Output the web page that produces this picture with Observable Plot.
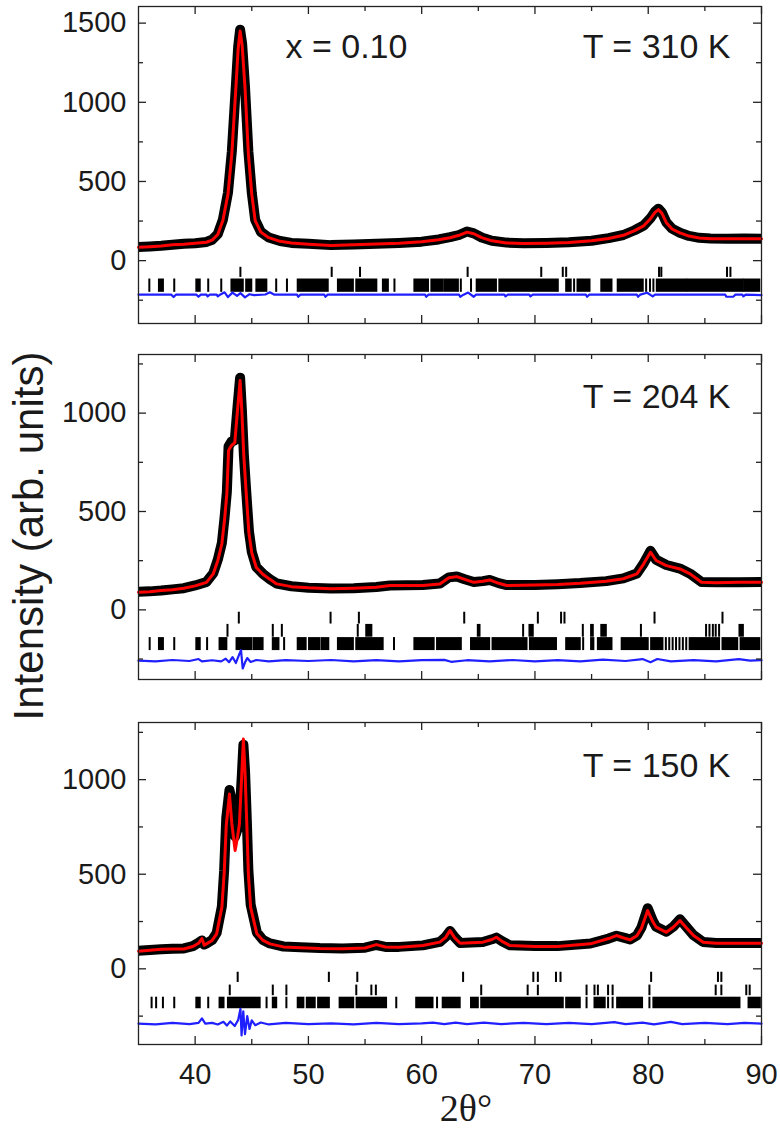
<!DOCTYPE html>
<html>
<head>
<meta charset="utf-8">
<script src="https://cdn.jsdelivr.net/npm/d3@7"></script>
<script src="https://cdn.jsdelivr.net/npm/@observablehq/plot@0.6"></script>
<style>
  body { margin: 0; background: #fff; }
  #wrap { position: relative; width: 780px; height: 1128px; overflow: hidden; background: #fff; }
  #wrap > svg { position: absolute; left: 0; }
</style>
</head>
<body>
<div id="wrap"></div>
<script>
// ---------------- tick labels / texts ----------------
const xMajorTicks = [40, 50, 60, 70, 80, 90];
const xMinorTicks = [45, 55, 65, 75, 85];
const yMajorTicks1 = [0, 500, 1000, 1500];
const yMajorTicks23 = [0, 500, 1000];
const yMinorTicks = [-250, 250, 750, 1250];
const compositionLabel = "x = 0.10";
const temperatureLabels = ["T = 310 K", "T = 204 K", "T = 150 K"];
const yTitle = "Intensity (arb. units)";
const xTitle = "2θ°";

// ---------------- panel 1: T = 310 K ----------------
const twoTheta1 = [35,36,37,38,39,40,41,41.5,42,42.45,42.9,43.24,43.6,43.8,43.97,44.15,44.4,44.7,45,45.3,45.8,46.5,47.5,48.5,50,52,54,56,58,60,61.5,62.5,63.3,64.0,64.6,65.3,66.2,67.5,69,71,73,75,76.5,77.8,78.8,79.6,80.2,80.6,80.9,81.2,81.6,82.1,82.8,83.6,84.5,85.5,87,88.5,90];
const obs1  = [86,90,94,100,106,110,118,132,168,258,430,690,1110,1350,1458,1370,1100,690,430,258,182,146,124,112,106,98,102,106,112,120,134,148,162,184,172,146,126,114,110,112,116,126,142,162,192,222,268,310,328,305,242,202,176,156,144,140,138,140,138];
const calc1 = [84,88,92,100,104,110,116,130,165,253,420,676,1095,1340,1450,1360,1095,676,420,253,180,145,122,112,104,95,100,105,110,120,132,145,160,180,170,145,125,112,108,110,115,125,140,160,190,220,265,305,322,300,240,200,175,155,143,138,138,138,138];
const diff1 = [[35,-215],[37.9,-215],[38.1,-230],[38.3,-215],[40.1,-215],[40.3,-228],[40.5,-215],[41.0,-215],[41.1,-226],[41.3,-215],[41.9,-215],[42.0,-226],[42.2,-215],[42.6,-200],[42.9,-230],[43.3,-202],[43.7,-222],[44.0,-205],[44.4,-232],[44.8,-212],[45.2,-218],[46.2,-214],[46.6,-200],[47.0,-215],[49.0,-215],[49.1,-228],[49.3,-215],[51.4,-215],[51.5,-228],[51.7,-215],[60.3,-215],[60.4,-228],[60.6,-215],[63.3,-215],[63.4,-228],[63.7,-215],[64.1,-202],[64.6,-228],[64.8,-215],[67.3,-215],[67.4,-226],[67.6,-215],[69.5,-215],[69.6,-226],[69.8,-215],[74.5,-215],[74.6,-228],[74.8,-215],[79.0,-215],[79.1,-228],[79.3,-215],[79.9,-203],[80.4,-226],[80.6,-215],[86.8,-215],[86.9,-228],[87.5,-228],[87.7,-215],[88.3,-215],[88.4,-226],[88.6,-215],[90,-218]];
const braggUpper1 = [44.04, 52.1, 54.6, 64.1, 70.6, 72.5, 72.8, 81.0, 81.2, 87.0, 87.3];
const braggLower1 = [36.0,[36.85,37.2],38.2,[40.15,40.45],41.2,42.35,[43.25,44.25],[44.55,45.0],[45.45,46.33],47.2,48.15,[49.1,51.75],[52.65,53.97],[54.27,56.04],[56.62,57.06],57.64,[59.4,60.6],[60.9,61.9],[62.06,63.24],63.5,64.4,[64.9,66.6],[66.9,72.06],[72.8,73.2],73.5,[73.8,74.86],[75.9,76.8],[77.35,79.56],79.86,80.2,80.5,[80.8,83.4],[83.53,88.4],[88.53,89.85]];

// ---------------- panel 2: T = 204 K ----------------
const twoTheta2 = [35,36,37,38,39,40,41,41.6,42,42.36,42.6,42.8,42.95,43.2,43.5,43.74,43.97,44.12,44.3,44.5,44.75,45,45.4,46,46.6,47.2,48.5,50,52,54,56,57.2,60.1,61.6,62.4,63.1,63.8,64.6,65.4,66,66.8,67.5,70,72,74,76.3,77.8,79,79.6,80.2,80.7,81.6,82.8,83.7,84.7,86,88,90];
const obs2  = [92,94,98,104,110,124,142,186,255,340,470,600,830,855,862,1030,1180,1025,790,610,400,295,218,182,156,134,120,112,108,110,116,124,126,134,165,170,156,142,146,152,136,126,126,130,136,146,160,185,236,300,255,228,210,184,142,140,140,142];
const calc2 = [90,92,98,102,110,122,140,183,250,336,460,590,810,835,850,1014,1166,1014,780,600,390,290,215,180,155,132,118,112,107,110,115,124,124,132,163,169,155,140,145,152,135,124,126,129,135,145,158,183,234,293,251,225,208,183,140,138,140,140];
const diff2 = [[35,-258],[36.5,-262],[38,-255],[39.5,-260],[40.3,-250],[40.6,-262],[41.5,-256],[42.3,-262],[42.7,-248],[43.0,-266],[43.3,-240],[43.6,-270],[43.9,-225],[44.05,-205],[44.2,-298],[44.4,-268],[44.6,-245],[44.9,-265],[45.4,-255],[46.5,-262],[48,-256],[50,-260],[52,-255],[54,-262],[56,-256],[58,-262],[60,-256],[62,-254],[62.6,-264],[64,-256],[66,-262],[68,-255],[70,-262],[72,-256],[74,-262],[76,-253],[78,-260],[79.5,-250],[80.2,-266],[80.8,-250],[82,-262],[84,-256],[86,-262],[88,-250],[89,-258],[90,-256]];
const braggTop2 = [43.9, 52.0, 54.5, 63.8, 70.3, 72.35, 72.65, 80.6, 86.6];
const braggMid2 = [42.9, 46.9, 47.7, 54.4, [55.15,55.6], [65.0,65.15], 69.0, [69.56,69.85], 74.27, [75.0,75.15], [75.9,76.3], 79.4, 85.15, 85.45, 85.75, 86.0, 86.3, [88.1,88.4]];
const braggBot2 = [36.03,[36.85,37.2],38.2,[40.15,40.45],41.1,[42.2,42.8],[43.7,45.0],[45.2,46.0],[46.9,47.4],47.9,[49.1,49.8],[50.1,51.0],[51.2,51.8],[52.65,53.97],[54.27,56.6],57.6,[59.4,61.1],[61.4,63.5],[64.4,66.0],[66.3,69.3],[69.6,71.9],[72.8,74.0],74.3,[75.0,75.2],[75.6,76.8],[77.7,80.0],[80.3,81.3],81.6,81.9,82.2,82.5,82.8,83.1,83.4,[83.7,86.3],[86.6,87.9],[88.2,89.85]];

// ---------------- panel 3: T = 150 K ----------------
const twoTheta3 = [35,36,37,38,39,39.8,40.3,40.6,40.8,41,41.5,41.9,42.36,42.56,42.75,43.03,43.24,43.53,43.75,43.91,44.12,44.26,44.41,44.56,44.7,44.9,45.45,46,46.6,47.8,49.3,51,53,55,56,56.8,58,60.1,61.6,62.1,62.5,62.9,63.4,65.4,66.2,66.6,67.1,67.8,70,72,74.9,76.5,77.2,78,78.4,79,79.4,79.95,80.4,80.7,81.6,82.2,82.8,83.4,84,84.85,86,88,90];
const obs3  = [95,100,104,106,108,120,138,150,128,134,152,190,330,520,800,945,890,700,740,800,1020,1185,1040,790,520,340,192,152,134,118,114,110,108,112,126,116,116,124,142,168,200,168,137,142,156,165,146,124,120,120,134,160,175,162,155,176,218,320,255,222,196,222,262,220,178,142,136,136,136];
const calc3 = [93,98,103,105,105,118,135,160,125,132,150,185,325,502,760,924,767,625,700,767,1031,1215,1031,767,502,325,185,150,132,116,112,108,106,110,128,115,114,123,141,165,202,165,135,141,155,167,145,123,118,118,132,160,176,160,153,175,215,308,250,220,193,220,255,215,176,141,135,135,135];
const diff3 = [[35,-290],[36.5,-294],[38,-286],[39.5,-292],[40.3,-286],[40.6,-262],[40.9,-290],[41.5,-286],[42.0,-294],[42.5,-280],[42.8,-300],[43.1,-278],[43.5,-302],[43.8,-270],[44.0,-211],[44.1,-352],[44.25,-225],[44.4,-345],[44.6,-250],[44.8,-318],[45.0,-272],[45.3,-298],[45.8,-284],[46.5,-294],[48,-286],[50,-292],[52,-288],[54,-294],[56,-286],[58,-292],[60,-288],[61,-284],[62,-292],[63,-284],[64,-292],[65.5,-284],[67,-292],[69,-286],[71,-292],[73,-286],[75,-292],[77,-282],[78,-292],[79.5,-284],[80.5,-294],[82,-280],[83,-292],[85,-286],[87,-292],[88.5,-286],[90,-290]];
const braggTop3 = [43.8, 51.85, 54.36, 63.7, 69.9, 70.3, 71.9, 72.3, 80.3, 86.2, 86.5];
const braggMid3 = [43.1, 46.9, 48.1, 54.27, 55.6, 56.0, 65.3, 69.4, 70.3, 74.6, 75.3, 75.6, 76.5, 76.9, 80.15, 86.0, 86.5, 88.7, 89.0];
const braggBot3 = [36.2,36.6,37.2,38.2,[40.15,40.45],41.2,[42.2,42.55],[42.94,45.74],46.35,[46.9,47.2],48.1,[49.1,49.6],[49.9,50.6],[50.9,51.85],[52.8,54.0],[54.3,56.9],57.8,[59.56,61.0],61.4,[61.9,63.4],[64.4,65.0],[65.3,72.5],[72.8,74.0],74.6,[75.3,76.2],76.5,76.9,[77.3,79.5],80.15,[80.5,88.1],[88.9,89.9]];

// ---------------- layout ----------------
const W = 780, ML = 138, MR = 19;
const innerW = W - ML - MR;
const FONT = "'Liberation Sans', Arial, Helvetica, sans-serif";
const INK = "#1a1a1a";
const plain = d => String(d);

const panels = [
  {top: 0, marginTop: 6, inner: 317, marginBottom: 5, yDomain: [-397, 1605], yMajor: yMajorTicks1,
   x: twoTheta1, obs: obs1, calc: calc1, diff: diff1, label: temperatureLabels[0], labelDy: 27, comp: true,
   rows: [{y1: -42, y2: -106, ticks: braggUpper1}, {y1: -116, y2: -200, ticks: braggLower1}]},
  {top: 340, marginTop: 14, inner: 325, marginBottom: 5, yDomain: [-354, 1298], yMajor: yMajorTicks23,
   x: twoTheta2, obs: obs2, calc: calc2, diff: diff2, label: temperatureLabels[1], labelDy: 29,
   rows: [{y1: -12, y2: -72, ticks: braggTop2}, {y1: -74, y2: -139, ticks: braggMid2}, {y1: -141, y2: -207, ticks: braggBot2}]},
  {top: 700, marginTop: 22, inner: 322, marginBottom: 84, yDomain: [-400, 1302], yMajor: yMajorTicks23,
   x: twoTheta3, obs: obs3, calc: calc3, diff: diff3, label: temperatureLabels[2], labelDy: 30, xLabels: true,
   rows: [{y1: -18, y2: -72, ticks: braggTop3}, {y1: -86, y2: -142, ticks: braggMid3}, {y1: -150, y2: -211, ticks: braggBot3}]}
];

const wrap = document.getElementById("wrap");
const toInterval = t => Array.isArray(t) ? t : [t, t];

panels.forEach(p => {
  const height = p.marginTop + p.inner + p.marginBottom;
  const marks = [];
  // Bragg reflection ticks
  p.rows.forEach(r => {
    marks.push(Plot.rect(r.ticks.map(toInterval), {
      x1: d => d[0], x2: d => d[1], y1: () => r.y1, y2: () => r.y2,
      fill: "#000", insetLeft: -1, insetRight: -1
    }));
  });
  // difference curve
  marks.push(Plot.line(p.diff, {x: d => d[0], y: d => d[1], stroke: "#1f1fff", strokeWidth: 2.2}));
  // observed (thick black band) and calculated (red)
  const obsData = p.x.map((x, i) => [x, p.obs[i]]);
  const calcData = p.x.map((x, i) => [x, p.calc[i]]);
  marks.push(Plot.line(obsData, {x: d => d[0], y: d => d[1], stroke: "#000", strokeWidth: 10, strokeLinejoin: "round", strokeLinecap: "butt"}));
  marks.push(Plot.line(calcData, {x: d => d[0], y: d => d[1], stroke: "#ff0000", strokeWidth: 3, strokeLinejoin: "round"}));
  // frame and inward ticks
  marks.push(Plot.frame({stroke: "#222", strokeWidth: 1.3}));
  const tk = {stroke: "#222", strokeWidth: 1.3};
  marks.push(Plot.tickY(p.yMajor, {y: d => d, insetRight: innerW - 8, ...tk}));
  marks.push(Plot.tickY(p.yMajor, {y: d => d, insetLeft: innerW - 8, ...tk}));
  marks.push(Plot.tickY(yMinorTicks, {y: d => d, insetRight: innerW - 5, ...tk}));
  marks.push(Plot.tickY(yMinorTicks, {y: d => d, insetLeft: innerW - 5, ...tk}));
  marks.push(Plot.tickX(xMajorTicks, {x: d => d, insetTop: p.inner - 8, ...tk}));
  marks.push(Plot.tickX(xMajorTicks, {x: d => d, insetBottom: p.inner - 8, ...tk}));
  marks.push(Plot.tickX(xMinorTicks, {x: d => d, insetTop: p.inner - 5, ...tk}));
  marks.push(Plot.tickX(xMinorTicks, {x: d => d, insetBottom: p.inner - 5, ...tk}));
  // tick labels
  marks.push(Plot.axisY(p.yMajor, {tickSize: 0, tickPadding: 12, fontSize: 29, label: null, fill: INK, tickFormat: plain}));
  if (p.xLabels) {
    marks.push(Plot.axisX(xMajorTicks, {tickSize: 0, tickPadding: 19, fontSize: 29, label: null, fill: INK, tickFormat: plain}));
  }
  // panel annotations
  marks.push(Plot.text([p.label], {text: d => d, frameAnchor: "top-right", dx: -31, dy: p.labelDy,
    textAnchor: "end", lineAnchor: "top", fontSize: 34, fill: INK}));
  if (p.comp) {
    marks.push(Plot.text([compositionLabel], {text: d => d, frameAnchor: "top-left", dx: 147, dy: p.labelDy,
      textAnchor: "start", lineAnchor: "top", fontSize: 34, fill: INK}));
  }
  const chart = Plot.plot({
    width: W, height,
    marginLeft: ML, marginRight: MR, marginTop: p.marginTop, marginBottom: p.marginBottom,
    x: {domain: [35, 90], axis: null},
    y: {domain: p.yDomain, axis: null},
    style: {fontFamily: FONT, background: "transparent", overflow: "visible", color: INK},
    marks
  });
  chart.style.top = p.top + "px";
  wrap.appendChild(chart);
});

// axis titles overlay
const ns = "http://www.w3.org/2000/svg";
const ov = document.createElementNS(ns, "svg");
ov.setAttribute("width", W);
ov.setAttribute("height", 1128);
ov.style.position = "absolute";
ov.style.top = "0px";
ov.style.left = "0px";
ov.style.pointerEvents = "none";
const t1 = document.createElementNS(ns, "text");
t1.setAttribute("transform", "translate(43,536) rotate(-90)");
t1.setAttribute("text-anchor", "middle");
t1.setAttribute("font-family", FONT);
t1.setAttribute("font-size", "42");
t1.setAttribute("fill", INK);
t1.textContent = yTitle;
ov.appendChild(t1);
const t2 = document.createElementNS(ns, "text");
t2.setAttribute("x", 466);
t2.setAttribute("y", 1121);
t2.setAttribute("text-anchor", "middle");
t2.setAttribute("font-family", "'Liberation Serif', 'Times New Roman', serif");
t2.setAttribute("font-size", "38");
t2.setAttribute("fill", INK);
t2.textContent = xTitle;
ov.appendChild(t2);
wrap.appendChild(ov);
</script>
</body>
</html>
